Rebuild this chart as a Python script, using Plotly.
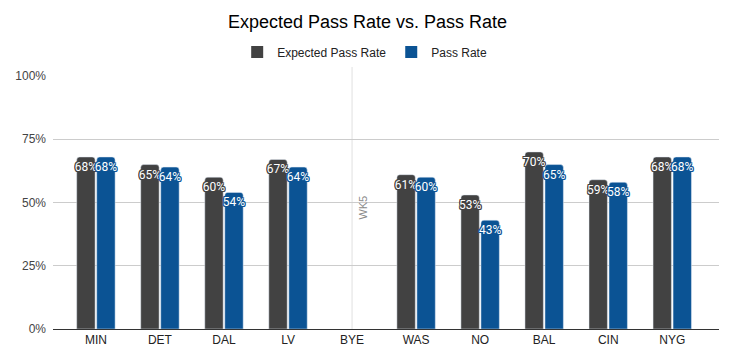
import plotly.graph_objects as go

teams = ["MIN", "DET", "DAL", "LV", "BYE", "WAS", "NO", "BAL", "CIN", "NYG"]
expected_pass_rate = [0.68, 0.65, 0.60, 0.67, None, 0.61, 0.53, 0.70, 0.59, 0.68]
pass_rate = [0.68, 0.64, 0.54, 0.64, None, 0.60, 0.43, 0.65, 0.58, 0.68]
y_ticks = [0, 0.25, 0.5, 0.75, 1.0]
y_tick_labels = ["0%", "25%", "50%", "75%", "100%"]
bye_label = "WK5"

c_exp = "#424242"
c_pass = "#0b5394"

def halo(c):
    return ", ".join(f"{dx}px {dy}px 0px {c}" for dx, dy in [(1, 0), (-1, 0), (0, 1), (0, -1), (1, 1), (-1, -1), (1, -1), (-1, 1)])

def labels(vals):
    return [None if v is None else f"{round(v*100)}%" for v in vals]

fig = go.Figure()
for name, vals, col in [("Expected Pass Rate", expected_pass_rate, c_exp), ("Pass Rate", pass_rate, c_pass)]:
    fig.add_trace(go.Bar(
        name=name, x=teams, y=vals, marker_color=col, showlegend=False,
        text=labels(vals), textposition="inside", insidetextanchor="end",
        constraintext="none", textangle=0, cliponaxis=False,
        textfont=dict(family="Roboto", size=12, color="white", shadow=halo(col)),
    ))
# legend entries with square swatches
for name, col in [("Expected Pass Rate", c_exp), ("Pass Rate", c_pass)]:
    fig.add_trace(go.Scatter(name=name, x=[None], y=[None], mode="markers",
                             marker=dict(symbol="square", size=12, color=col), showlegend=True))

fig.add_shape(type="line", xref="x", yref="paper", x0="BYE", x1="BYE", y0=0, y1=1.06,
              line=dict(color="#e0e0e0", width=1), layer="below")
fig.add_annotation(x="BYE", y=0.48, xref="x", yref="y", text=bye_label, textangle=-90,
                   showarrow=False, xshift=10, font=dict(family="Arial", size=11, color="#8a8a8a"))

fig.update_layout(
    width=735, height=364,
    margin=dict(l=53, r=16, t=76, b=35),
    paper_bgcolor="white", plot_bgcolor="white",
    title=dict(text="Expected Pass Rate vs. Pass Rate", x=0.5, xanchor="center", y=0.94, yanchor="middle",
               font=dict(family="Arial", size=18, color="#000000")),
    legend=dict(orientation="h", x=0.468, xanchor="center", y=0.095, yanchor="middle",
                yref="container" if False else "paper",
                font=dict(family="Arial", size=12, color="#222222"), itemwidth=30),
    barmode="group", bargap=0.375, bargroupgap=0.08, barcornerradius=3,
    font=dict(family="Arial", size=12, color="#444444"),
    xaxis=dict(range=[-0.67, 9.73], showgrid=False, showline=True, linecolor="#333333", linewidth=1,
               ticks="", tickfont=dict(family="Arial", size=12, color="#222222")),
    yaxis=dict(range=[0, 1.0], tickvals=y_ticks, ticktext=y_tick_labels, showgrid=True,
               gridcolor="#cccccc", zeroline=False, ticks="", ticklabelstandoff=6,
               tickfont=dict(family="Arial", size=12, color="#444444")),
)
fig.update_layout(legend=dict(y=1 + (76 - 52) / 253))

fig.write_html("out.html", post_script="document.body.style.margin='0';",
               config={"displayModeBar": False})
